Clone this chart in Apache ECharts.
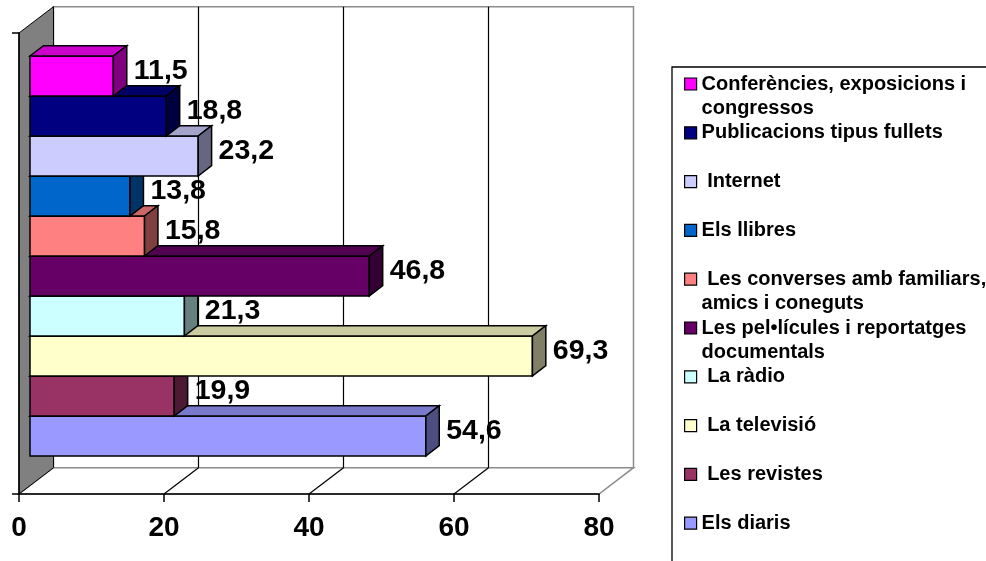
<!DOCTYPE html>
<html><head><meta charset="utf-8">
<script src="https://cdn.jsdelivr.net/npm/echarts@6/dist/echarts.min.js"></script>
<style>html,body{margin:0;padding:0;background:#fff}#c{width:986px;height:561px}</style>
</head><body><div id="c"></div>
<script>
// ---- data (bottom row first) ----
const categories = [
  'Els diaris',
  'Les revistes',
  'La televisió',
  'La ràdio',
  'Les pel•lícules i reportatges documentals',
  'Les converses amb familiars, amics i coneguts',
  'Els llibres',
  'Internet',
  'Publicacions tipus fullets',
  'Conferències, exposicions i congressos'
];
const values = [54.6, 19.9, 69.3, 21.3, 46.8, 15.8, 13.8, 23.2, 18.8, 11.5];
const colors = ['#9999FF', '#993366', '#FFFFCC', '#CCFFFF', '#660066', '#FF8080', '#0066CC', '#CCCCFF', '#000080', '#FF00FF'];
const legendLabels = [
  'Els diaris',
  ' Les revistes',
  ' La televisió',
  ' La ràdio',
  'Les pel•lícules i reportatges\ndocumentals',
  ' Les converses amb familiars,\namics i coneguts',
  'Els llibres',
  ' Internet',
  'Publicacions tipus fullets',
  'Conferències, exposicions i\ncongressos'
];
const xTicks = [0, 20, 40, 60, 80];

// ---- styling / layout constants ----
const FONT = '"Liberation Sans", Arial, Helvetica, sans-serif';
const DEPTH = [34.5, -26.3];      // frame depth offset
const BAR_DEPTH = [13.4, -10.3];  // bar depth offset

function shade(hex, f) {
  const n = parseInt(hex.slice(1), 16);
  const r = Math.round(((n >> 16) & 255) * f);
  const g = Math.round(((n >> 8) & 255) * f);
  const b = Math.round((n & 255) * f);
  return 'rgb(' + r + ',' + g + ',' + b + ')';
}
const fmt = v => v.toFixed(1).replace('.', ',');

const chart = echarts.init(document.getElementById('c'), null, {renderer: 'canvas'});

const xMin = xTicks[0], xMax = xTicks[xTicks.length - 1];

const frameSeries = {
  type: 'custom', name: '__frame', xAxisIndex: 0, yAxisIndex: 0,
  clip: false, silent: true, z: 1,
  data: [[0, 0]],
  renderItem(params, api) {
    const f = v => api.coord([v, 0]);
    const t = v => api.coord([v, 1]);
    const b = p => [p[0] + DEPTH[0], p[1] + DEPTH[1]];
    const ch = [];
    ch.push({type: 'polygon', shape: {points: [b(f(xMin)), b(f(xMax)), b(t(xMax)), b(t(xMin))]},
      style: {fill: '#fff', stroke: '#8c8c8c', lineWidth: 1.5}});
    ch.push({type: 'polygon', shape: {points: [f(xMin), f(xMax), b(f(xMax)), b(f(xMin))]},
      style: {fill: '#fff', stroke: '#8c8c8c', lineWidth: 1.5}});
    xTicks.slice(1, -1).forEach(v => {
      const p = f(v), q = b(f(v)), r = b(t(v));
      ch.push({type: 'line', shape: {x1: q[0], y1: q[1], x2: r[0], y2: r[1]}, style: {stroke: '#000', lineWidth: 1.2}});
      ch.push({type: 'line', shape: {x1: p[0], y1: p[1], x2: q[0], y2: q[1]}, style: {stroke: '#000', lineWidth: 1.2}});
    });
    ch.push({type: 'polygon', shape: {points: [f(xMin), t(xMin), b(t(xMin)), b(f(xMin))]},
      style: {fill: '#808080', stroke: '#000', lineWidth: 1}});
    return {type: 'group', children: ch};
  }
};

const barSeries = categories.map((name, i) => ({
  type: 'custom', name: name, xAxisIndex: 1, yAxisIndex: 1, clip: false, z: 2,
  itemStyle: {color: colors[i]},
  data: [[values[i], i]],
  renderItem(params, api) {
    const v = api.value(0), c = api.value(1);
    const p0 = api.coord([0, c]);
    const p1 = api.coord([v, c]);
    const h = api.size([0, 1])[1];
    const x0 = p0[0], x1 = p1[0], yT = p0[1] - h / 2, yB = p0[1] + h / 2;
    const dx = BAR_DEPTH[0], dy = BAR_DEPTH[1];
    const col = colors[i];
    return {type: 'group', children: [
      {type: 'rect', shape: {x: x0, y: yT, width: x1 - x0, height: h},
        style: {fill: col, stroke: '#000', lineWidth: 1.5}},
      {type: 'polygon', shape: {points: [[x0, yT], [x0 + dx, yT + dy], [x1 + dx, yT + dy], [x1, yT]]},
        style: {fill: shade(col, 0.8), stroke: '#000', lineWidth: 1.5}},
      {type: 'polygon', shape: {points: [[x1, yT], [x1 + dx, yT + dy], [x1 + dx, yB + dy], [x1, yB]]},
        style: {fill: shade(col, 0.5), stroke: '#000', lineWidth: 1.5}},
      {type: 'text', z2: 100, style: {text: fmt(v), x: x1 + dx + 7, y: p0[1] - 4.5,
        align: 'left', verticalAlign: 'middle', fontSize: 28.5, fontWeight: 'bold', fontFamily: FONT, fill: '#000'}}
    ]};
  }
}));

const legendPitch = 48.8, legendFirst = 84;
const legends = categories.map((name, i) => {
  const k = categories.length - 1 - i;
  const label = legendLabels[i];
  const two = label.indexOf('\n') >= 0;
  const cy = legendFirst + k * legendPitch;
  // two-line labels get a leading empty line so the first line sits beside the icon
  const shown = two ? '\n' + label : label;
  return {
    data: [name], orient: 'vertical', left: 684, top: cy - (two ? 36 : 12), padding: 0,
    itemWidth: 12, itemHeight: 12, icon: 'rect', itemGap: 0, selectedMode: false,
    itemStyle: {borderColor: '#000', borderWidth: 1.2},
    formatter: () => shown,
    textStyle: {fontFamily: FONT, fontWeight: 'bold', fontSize: 20, lineHeight: 24, color: '#000'}
  };
});

chart.setOption({
  animation: false,
  backgroundColor: '#fff',
  grid: [
    {left: 19, top: 33, width: 580, height: 461},
    {left: 30, top: 56, width: 580, height: 400}
  ],
  xAxis: [
    {type: 'value', gridIndex: 0, min: xMin, max: xMax, interval: 20, z: 10,
      axisLine: {show: true, lineStyle: {color: '#000', width: 1.5}},
      axisTick: {show: true, length: 8, lineStyle: {color: '#000', width: 1.5}},
      splitLine: {show: false},
      axisLabel: {margin: 20, fontSize: 28, fontWeight: 'bold', fontFamily: FONT, color: '#000'}},
    {type: 'value', gridIndex: 1, min: xMin, max: xMax, show: false}
  ],
  yAxis: [
    {type: 'value', gridIndex: 0, min: 0, max: 1, interval: 1, z: 10,
      axisLine: {show: true, lineStyle: {color: '#000', width: 1.5}},
      axisTick: {show: true, length: 7, lineStyle: {color: '#000', width: 1.5}},
      axisLabel: {show: false}, splitLine: {show: false}},
    {type: 'category', gridIndex: 1, data: categories, show: false}
  ],
  legend: legends,
  graphic: [
    {type: 'rect', shape: {x: 672, y: 67, width: 400, height: 600},
      style: {fill: 'none', stroke: '#000', lineWidth: 1.3}, silent: true}
  ],
  series: [frameSeries].concat(barSeries)
});
</script>
</body></html>
